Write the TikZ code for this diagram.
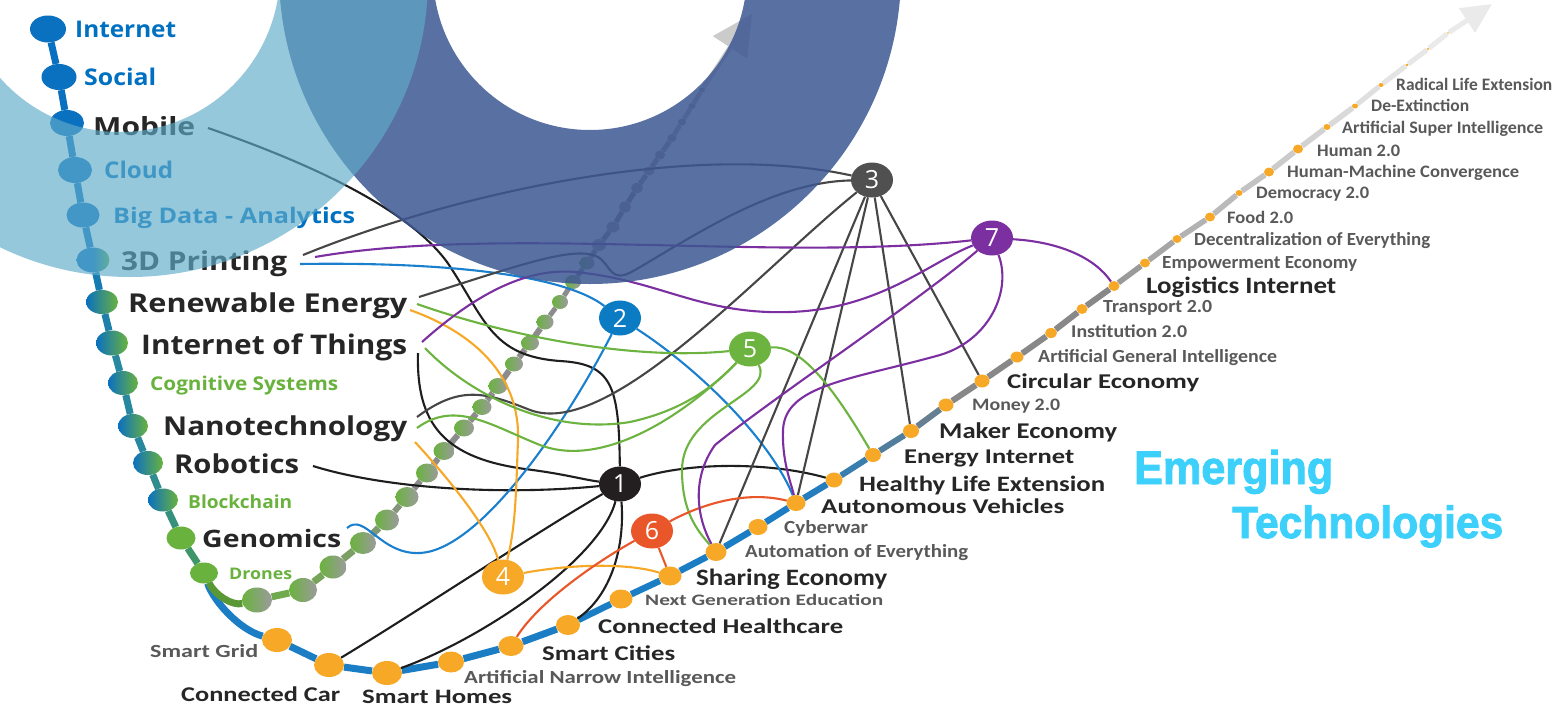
\documentclass[tikz,border=0pt]{standalone}
\usepackage{fontspec}
\usepackage{graphicx}
\usetikzlibrary{shapes.geometric,arrows.meta}
\setmainfont{Open Sans}
\newfontfamily\osf{Open Sans}
\newfontfamily\carl{Carlito}
\newfontfamily\emf{Liberation Sans}[FakeBold=2]
\newcommand{\fitlbl}[3]{\resizebox{#1pt}{\height}{\fontsize{#2}{#2}\selectfont #3}}
\definecolor{cChain}{RGB}{10,112,192}
\definecolor{cTeal}{RGB}{40,136,160}
\definecolor{cTealG}{RGB}{62,150,104}
\definecolor{cLeaf}{RGB}{106,178,62}
\definecolor{cDiag}{RGB}{27,125,196}
\definecolor{cOrange}{RGB}{246,168,38}
\definecolor{cInnerG}{RGB}{155,155,155}
\definecolor{cInL}{RGB}{140,140,140}
\definecolor{cG1}{RGB}{136,136,136}
\definecolor{cDark}{RGB}{38,38,38}
\definecolor{cGrayT}{RGB}{89,89,89}
\definecolor{cBlueT}{RGB}{0,112,192}
\definecolor{cGreenT}{RGB}{106,178,62}
\definecolor{hBlack}{RGB}{35,31,32}
\definecolor{hBlue}{RGB}{11,123,196}
\definecolor{hGray}{RGB}{80,80,80}
\definecolor{hOrange}{RGB}{246,168,38}
\definecolor{hGreen}{RGB}{108,179,63}
\definecolor{hRed}{RGB}{233,86,42}
\definecolor{hPurple}{RGB}{123,47,160}
\definecolor{lBlack}{RGB}{30,30,30}
\definecolor{lGray}{RGB}{70,70,70}
\definecolor{lBlue}{RGB}{26,128,205}
\definecolor{ringNavy}{RGB}{61,87,146}
\definecolor{ringLight}{RGB}{96,172,202}
\definecolor{emCyan}{RGB}{61,208,251}
\pgfdeclarelayer{chain}
\pgfdeclarelayer{conn}
\pgfdeclarelayer{hubs}
\pgfdeclarelayer{rings}
\pgfsetlayers{chain,main,conn,hubs,rings}
\begin{document}
\begin{tikzpicture}[x=1pt,y=-1pt,
  bd/.style n args={2}{ellipse,inner sep=0pt,minimum width=#1pt,minimum height=#2pt},
  blueBead/.style={fill=cChain},
  mixBead/.style={left color=cChain,right color=cLeaf},
  greenBead/.style={fill=cLeaf},
  orBead/.style={fill=cOrange},
  inBead/.style={left color=cLeaf,right color=cInnerG},
  grBead/.style={fill=cInnerG},
  lblL/.style={anchor=base west,inner sep=0pt,font=\osf\bfseries},
  lblR/.style={anchor=base west,inner sep=0pt,font=\carl\bfseries},
  emtext/.style={anchor=base west,inner sep=0pt,font=\emf\bfseries,text=emCyan},
  hub/.style={ellipse,inner sep=0pt,minimum width=42pt,minimum height=35pt,text=white,font={\osf\fontsize{25}{25}\selectfont}},
  cn/.style={line width=2.1pt},
  chainline/.style={line width=7pt}]
\begin{pgfonlayer}{chain}
\fill[white] (0,0) rectangle (1557,707);
\end{pgfonlayer}
\useasboundingbox (0,0) rectangle (1557,707);

% ---------- left chain beads
\node[bd={36}{27},blueBead] (bInt) at (48,29) {};
\node[bd={35}{26},blueBead] (bSoc) at (59,77) {};
\node[bd={34}{26},blueBead] (bMob) at (67,123) {};
\node[bd={34}{26},blueBead] (bClo) at (75,170) {};
\node[bd={33}{25},blueBead] (bBig) at (83,215) {};
\node[bd={33}{25},left color=cChain,right color=cLeaf,middle color=cChain] (b3D) at (93,260) {};
\node[bd={32}{24},mixBead] (bRen) at (102,302) {};
\node[bd={32}{25},mixBead] (bIoT) at (112,343) {};
\node[bd={30}{24},mixBead] (bCog) at (123,383) {};
\node[bd={30}{24},mixBead] (bNan) at (133,426) {};
\node[bd={30}{24},mixBead] (bRob) at (148,463) {};
\node[bd={30}{23},mixBead] (bBlo) at (163,500) {};
\node[bd={29}{23},greenBead] (bGen) at (181,538) {};
\node[bd={28}{21},greenBead] (bDro) at (204,573) {};

% ---------- diagonal beads
\node[bd={30}{24},orBead] (dSG) at (277,640) {};
\node[bd={30}{24},orBead] (dCC) at (329,665) {};
\node[bd={30}{24},orBead] (dSH) at (387,673) {};
\node[bd={26}{21},orBead] (dANI) at (451,662) {};
\node[bd={25}{20},orBead] (dSC) at (511,646) {};
\node[bd={24}{20},orBead] (dCH) at (568,625) {};
\node[bd={23}{19},orBead] (dNG) at (621,599) {};
\node[bd={23}{19},orBead] (dSE) at (670,576) {};
\node[bd={21}{18},orBead] (dAE) at (716,552) {};
\node[bd={19}{16},orBead] (dCW) at (758,527) {};
\node[bd={19}{16},orBead] (dAV) at (796,503) {};
\node[bd={17}{15},orBead] (dHL) at (834,480) {};
\node[bd={16}{14},orBead] (dEI) at (873,455) {};
\node[bd={16}{14},orBead] (dME) at (911,431) {};
\node[bd={15}{13},orBead] (dM2) at (946,405) {};
\node[bd={15}{13},orBead] (dCE) at (982,381) {};
\node[bd={13}{11},orBead] (dAG) at (1017,357) {};
\node[bd={12}{10},orBead] (dI2) at (1051,333) {};
\node[bd={11}{10},orBead] (dT2) at (1082,309) {};
\node[bd={11}{10},orBead] (dLI) at (1114,286) {};
\node[bd={10}{9},orBead] (dEE) at (1145,263) {};
\node[bd={9}{8},orBead] (dDE) at (1177,239) {};
\node[bd={10}{9},orBead] (dF2) at (1210,217) {};
\node[bd={7}{6},orBead] (dD2) at (1239,193) {};
\node[bd={10}{9},orBead] (dHM) at (1269,172) {};
\node[bd={10}{9},orBead] (dH2) at (1298,149) {};
\node[bd={7}{6},orBead] (dAS) at (1327,127) {};
\node[bd={6}{5},orBead] (dDX) at (1355,106) {};
\node[bd={5}{4},orBead] (dRL) at (1381,85) {};
\node[bd={3.2}{2.8},orBead] (dX1) at (1407,65) {};
\node[bd={2.6}{2.2},orBead] (dX2) at (1428,49) {};
\node[bd={2}{1.8},orBead] (dX3) at (1448,33) {};
\coordinate (tipOut) at (1492,4);

% ---------- inner chain beads
\node[bd={30}{25},inBead] (i1) at (257,600) {};
\node[bd={28}{24},inBead] (i2) at (303,590) {};
\node[bd={27}{23},inBead] (i3) at (333,567) {};
\node[bd={26}{22},inBead] (i4) at (363,543) {};
\node[bd={24}{21},inBead] (i5) at (387,520) {};
\node[bd={23}{20},inBead] (i6) at (407,497) {};
\node[bd={22}{19},inBead] (i7) at (427,473) {};
\node[bd={21}{18},inBead] (i8) at (444,451) {};
\node[bd={20}{17},inBead] (i9) at (464,428) {};
\node[bd={19}{16},inBead] (i10) at (482,407) {};
\node[bd={19}{16},inBead] (i11) at (498,386) {};
\node[bd={18}{15},inBead] (i12) at (514,364) {};
\node[bd={18}{15},inBead] (i13) at (530,343) {};
\node[bd={17}{15},inBead] (i14) at (545,322) {};
\node[bd={16}{14},inBead] (i15) at (560,302) {};
\node[bd={16}{14},inBead] (i16) at (573,282) {};
\node[bd={15}{13},inBead] (i17) at (587,263) {};
\node[bd={14}{12},grBead] (i18) at (599,245) {};
\node[bd={13}{11},grBead] (i19) at (613,227) {};
\node[bd={12}{11},grBead] (i20) at (625,207) {};
\node[bd={12}{10},grBead] (i21) at (637,188) {};
\node[bd={11}{9},grBead] (i22) at (649,171) {};
\node[bd={10}{9},grBead] (i23) at (660,155) {};
\node[bd={9}{8},grBead] (i24) at (672,138) {};
\node[bd={8}{7},grBead] (i25) at (682,122) {};
\node[bd={7}{6},grBead] (i26) at (692,106) {};
\node[bd={6}{5},grBead] (i27) at (702,90) {};
\coordinate (tipIn) at (752,14);

% ---------- left labels
\node[lblL,text=cBlueT] (tInt) at (75,37) {\fitlbl{101}{23}{Internet}};
\node[lblL,text=cBlueT] (tSoc) at (84,85) {\fitlbl{72}{23}{Social}};
\node[lblL,text=cDark] (tMob) at (93,135) {\fitlbl{102}{25}{Mobile}};
\node[lblL,text=cBlueT] (tClo) at (104,178) {\fitlbl{69}{23}{Cloud}};
\node[lblL,text=cBlueT] (tBig) at (113,223) {\fitlbl{242}{21.5}{Big Data - Analytics}};
\node[lblL,text=cDark] (t3D) at (121,270) {\fitlbl{166}{26}{3D Printing}};
\node[lblL,text=cDark] (tRen) at (128,312) {\fitlbl{279}{26}{Renewable Energy}};
\node[lblL,text=cDark] (tIoT) at (141,354) {\fitlbl{266}{27}{Internet of Things}};
\node[lblL,text=cGreenT] (tCog) at (150,390) {\fitlbl{188}{19}{Cognitive Systems}};
\node[lblL,text=cDark] (tNan) at (163,435) {\fitlbl{244}{26}{Nanotechnology}};
\node[lblL,text=cDark] (tRob) at (174,473) {\fitlbl{125}{26}{Robotics}};
\node[lblL,text=cGreenT] (tBlo) at (188,508) {\fitlbl{104}{18}{Blockchain}};
\node[lblL,text=cDark] (tGen) at (202,547) {\fitlbl{139}{24}{Genomics}};
\node[lblL,text=cGreenT] (tDro) at (229,579) {\fitlbl{63}{16}{Drones}};

% ---------- right labels
\node[lblR,text=cGrayT] (tSG) at (150,657) {\fitlbl{108}{18.5}{Smart Grid}};
\node[lblR,text=cDark] (tCC) at (181,701) {\fitlbl{159}{21}{Connected Car}};
\node[lblR,text=cDark] (tSH) at (362,703) {\fitlbl{150}{20.5}{Smart Homes}};
\node[lblR,text=cGrayT] (tANI) at (464,683) {\fitlbl{272}{18.5}{Artificial Narrow Intelligence}};
\node[lblR,text=cDark] (tSC) at (542,660) {\fitlbl{133}{21}{Smart Cities}};
\node[lblR,text=cDark] (tCH) at (598,633) {\fitlbl{245}{21}{Connected Healthcare}};
\node[lblR,text=cGrayT] (tNG) at (645,605) {\fitlbl{238}{16}{Next Generation Education}};
\node[lblR,text=cDark] (tSE) at (696,585) {\fitlbl{191}{23.5}{Sharing Economy}};
\node[lblR,text=cGrayT] (tAE) at (745,557) {\fitlbl{223}{18.5}{Automation of Everything}};
\node[lblR,text=cGrayT] (tCW) at (784,533) {\fitlbl{84}{18.5}{Cyberwar}};
\node[lblR,text=cDark] (tAV) at (821,513) {\fitlbl{243}{21}{Autonomous Vehicles}};
\node[lblR,text=cDark] (tHL) at (859,491) {\fitlbl{246}{22}{Healthy Life Extension}};
\node[lblR,text=cDark] (tEI) at (904,463) {\fitlbl{170}{21}{Energy Internet}};
\node[lblR,text=cDark] (tME) at (939,438) {\fitlbl{178}{22.5}{Maker Economy}};
\node[lblR,text=cGrayT] (tM2) at (972,410) {\fitlbl{88}{17.5}{Money 2.0}};
\node[lblR,text=cDark] (tCE) at (1007,388) {\fitlbl{192}{21}{Circular Economy}};
\node[lblR,text=cGrayT] (tAG) at (1038,362) {\fitlbl{239}{18.5}{Artificial General Intelligence}};
\node[lblR,text=cGrayT] (tI2) at (1071,337) {\fitlbl{116}{18}{Institution 2.0}};
\node[lblR,text=cGrayT] (tT2) at (1103,312) {\fitlbl{109}{18.5}{Transport 2.0}};
\node[lblR,text=cDark] (tLI) at (1146,293) {\fitlbl{190}{23.5}{Logistics Internet}};
\node[lblR,text=cGrayT] (tEE) at (1162,268) {\fitlbl{195}{18.5}{Empowerment Economy}};
\node[lblR,text=cGrayT] (tDE) at (1194,245) {\fitlbl{236}{18.5}{Decentralization of Everything}};
\node[lblR,text=cGrayT] (tF2) at (1227,223) {\fitlbl{66}{17.5}{Food 2.0}};
\node[lblR,text=cGrayT] (tD2) at (1256,198) {\fitlbl{113}{17.5}{Democracy 2.0}};
\node[lblR,text=cGrayT] (tHM) at (1287,177) {\fitlbl{232}{17.5}{Human-Machine Convergence}};
\node[lblR,text=cGrayT] (tH2) at (1317,156) {\fitlbl{83}{17.5}{Human 2.0}};
\node[lblR,text=cGrayT] (tAS) at (1342,133) {\fitlbl{201}{17.5}{Artificial Super Intelligence}};
\node[lblR,text=cGrayT] (tDX) at (1371,111) {\fitlbl{98}{17.5}{De-Extinction}};
\node[lblR,text=cGrayT] (tRL) at (1396,90) {\fitlbl{156}{17.5}{Radical Life Extension}};

\node[emtext] (tEm1) at (1134,484) {\fitlbl{199}{47}{Emerging}};
\node[emtext] (tEm2) at (1232,538) {\fitlbl{271}{45}{Technologies}};

% ---------- hubs
\begin{pgfonlayer}{hubs}
\node[hub,fill=hBlack] (n1) at (620,484) {1};
\node[hub,fill=hBlue] (n2) at (620,318) {2};
\node[hub,fill=hGray] (n3) at (872,180) {3};
\node[hub,fill=hOrange] (n4) at (503,577) {4};
\node[hub,fill=hGreen] (n5) at (750,349) {5};
\node[hub,fill=hRed] (n6) at (652,531) {6};
\node[hub,fill=hPurple] (n7) at (992,238) {7};
\end{pgfonlayer}

% ---------- connector end points at labels
\coordinate (eMob) at (208,128);
\coordinate (e3Dg) at (303,255);
\coordinate (e3Dp) at (315,257);
\coordinate (e3Db) at (300,264);
\coordinate (eReg) at (419,297);
\coordinate (eReG) at (417,304);
\coordinate (eReo) at (410,310);
\coordinate (eIoTp) at (422,342);
\coordinate (eIoTg) at (425,348);
\coordinate (eIoTk) at (418,353);
\coordinate (eNag) at (417,417);
\coordinate (eNaG) at (417,428);
\coordinate (eNao) at (415,442);
\coordinate (eRob) at (313,466);
\coordinate (eGen) at (347,528);

% ---------- chain lines
\begin{pgfonlayer}{chain}
\foreach \a/\b/\c in {bInt/bSoc/cChain,bSoc/bMob/cChain,bMob/bClo/cChain,bClo/bBig/cChain,
  bBig/b3D/cChain,b3D/bRen/cChain!60!cTeal,bRen/bIoT/cChain!30!cTeal,bIoT/bCog/cTeal,
  bCog/bNan/cTeal,bNan/bRob/cTeal,bRob/bBlo/cTeal!70!cTealG,bBlo/bGen/cTeal!40!cTealG,bGen/bDro/cTealG}
  {\draw[chainline,draw=\c] (\a) -- (\b);}
\draw[chainline,draw=cDiag] (bDro) .. controls (214,602) and (240,630) .. (dSG);
\draw[chainline,draw=cLeaf!85!black] (bDro) .. controls (215,595) and (232,606) .. (i1);
\foreach \a/\b/\w/\c in {dSG/dCC/7/cDiag,dCC/dSH/7/cDiag,dSH/dANI/7/cDiag,dANI/dSC/7/cDiag,
  dSC/dCH/7/cDiag,dCH/dNG/6.5/cDiag,dNG/dSE/6.5/cDiag,dSE/dAE/6.5/cDiag,dAE/dCW/6.5/cDiag,
  dCW/dAV/6.5/cDiag,dAV/dHL/6.5/cDiag!90!gray,dHL/dEI/6/cDiag!70!gray,dEI/dME/6/cDiag!45!gray,
  dME/dM2/6/cDiag!25!gray,dM2/dCE/6/cG1,dCE/dAG/6/cG1,dAG/dI2/6/cG1,dI2/dT2/6/cG1,dT2/dLI/6/cG1,
  dLI/dEE/5.5/cG1!85!white,dEE/dDE/5.5/cG1!75!white,dDE/dF2/5.5/cG1!65!white,
  dF2/dD2/5.5/cG1!58!white,dD2/dHM/5.5/cG1!50!white,dHM/dH2/5.5/cG1!44!white,
  dH2/dAS/5.5/cG1!38!white,dAS/dDX/5.5/cG1!32!white,dDX/dRL/5/cG1!27!white,
  dRL/dX1/5/cG1!23!white,dX1/dX2/5/cG1!20!white,dX2/dX3/5/cG1!18!white}
  {\draw[line width=\w pt,draw=\c] (\a) -- (\b);}
\draw[line width=5pt,draw=cG1!18!white,-{Triangle[length=30pt,width=28pt]}] (dX3) -- (tipOut);
\foreach \a/\b/\w/\c in {i1/i2/7/cLeaf!80!cInL,i2/i3/7/cLeaf!65!cInL,i3/i4/7/cLeaf!50!cInL,
  i4/i5/7/cLeaf!35!cInL,i5/i6/6/cLeaf!20!cInL,i6/i7/6/cInL,i7/i8/6/cInL,i8/i9/6/cInL,
  i9/i10/6/cInL,i10/i11/6/cInL,i11/i12/6/cInL,i12/i13/6/cInL,i13/i14/6/cInL,i14/i15/5/cInL,
  i15/i16/5/cInL,i16/i17/5/cInL,i17/i18/5/cInL,i18/i19/5/cInL,i19/i20/5/cInL,i20/i21/5/cInL,
  i21/i22/5/cInL!90!white,i22/i23/5/cInL!85!white,i23/i24/5/cInL!80!white,
  i24/i25/4.5/cInL!75!white,i25/i26/4.5/cInL!70!white,i26/i27/4.5/cInL!65!white}
  {\draw[line width=\w pt,draw=\c] (\a) -- (\b);}
\draw[line width=4.5pt,draw=cInL!45!white,-{Triangle[length=40pt,width=40pt]}] (i27) -- (tipIn);
\end{pgfonlayer}

% ---------- connectors
\begin{pgfonlayer}{conn}
% hub 1
\draw[cn,lBlack] (eMob) .. controls (300,160) and (405,205) .. (447,262)
   .. controls (485,318) and (490,356) .. (560,361) .. controls (612,364) and (619,385) .. (n1);
\draw[cn,lBlack] (eIoTk) .. controls (416,425) and (445,458) .. (525,469) .. controls (565,474) and (585,480) .. (n1);
\draw[cn,lBlack] (eRob) .. controls (390,490) and (510,495) .. (n1);
\draw[cn,lBlack] (n1) .. controls (540,530) and (420,610) .. (dCC);
\draw[cn,lBlack] (n1) .. controls (600,560) and (480,640) .. (dSH);
\draw[cn,lBlack] (n1) .. controls (625,545) and (612,595) .. (dCH);
\draw[cn,lBlack] (n1) .. controls (690,462) and (770,462) .. (dHL);
% hub 2
\draw[cn,lBlue] (e3Db) .. controls (430,262) and (560,272) .. (n2);
\draw[cn,lBlue] (eGen) .. controls (365,512) and (380,555) .. (420,553) .. controls (480,550) and (565,425) .. (n2);
\draw[cn,lBlue] (n2) .. controls (700,370) and (770,440) .. (dAV);
% hub 3
\draw[cn,lGray] (e3Dg) .. controls (450,195) and (690,140) .. (n3);
\draw[cn,lGray] (eReg) .. controls (520,265) and (575,245) .. (598,257)
   .. controls (612,266) and (610,285) .. (635,270) .. controls (700,232) and (775,182) .. (n3);
\draw[cn,lGray] (eNag) .. controls (460,385) and (485,392) .. (530,410) .. controls (610,440) and (760,270) .. (n3);
\draw[cn,lGray] (n3) -- (dAE);
\draw[cn,lGray] (n3) -- (dAV);
\draw[cn,lGray] (n3) -- (dME);
\draw[cn,lGray] (n3) -- (dCE);
% hub 4
\draw[cn,hOrange] (eReo) .. controls (480,335) and (520,380) .. (518,440) .. controls (516,490) and (516,525) .. (n4);
\draw[cn,hOrange] (eNao) .. controls (450,480) and (490,530) .. (n4);
\draw[cn,hOrange] (n4) .. controls (565,565) and (625,562) .. (dSE);
% hub 5
\draw[cn,hGreen] (eReG) .. controls (520,340) and (640,360) .. (n5);
\draw[cn,hGreen] (eIoTg) .. controls (470,395) and (550,435) .. (630,422) .. controls (685,410) and (715,385) .. (n5);
\draw[cn,hGreen] (eNaG) .. controls (455,400) and (490,425) .. (540,445) .. controls (600,468) and (680,420) .. (n5);
\draw[cn,hGreen] (n5) .. controls (775,395) and (682,410) .. (682,470) .. controls (682,512) and (697,530) .. (dAE);
\draw[cn,hGreen] (n5) .. controls (800,345) and (832,385) .. (dEI);
% hub 6
\draw[cn,hRed] (n6) .. controls (600,560) and (540,600) .. (dSC);
\draw[cn,hRed] (n6) .. controls (700,505) and (745,490) .. (dAV);
\draw[cn,hRed] (n6) -- (dSE);
% hub 7
\draw[cn,hPurple] (e3Dp) .. controls (500,225) and (780,262) .. (n7);
\draw[cn,hPurple] (eIoTp) .. controls (480,290) and (530,268) .. (575,272)
   .. controls (660,280) and (700,315) .. (790,312) .. controls (880,309) and (930,262) .. (n7);
\draw[cn,hPurple] (n7) .. controls (920,300) and (770,400) .. (715,445) .. controls (690,480) and (698,520) .. (dAE);
\draw[cn,hPurple] (n7) .. controls (1012,290) and (990,340) .. (940,355)
   .. controls (850,380) and (785,385) .. (783,430) .. controls (782,460) and (790,480) .. (dAV);
\draw[cn,hPurple] (n7) .. controls (1060,242) and (1095,258) .. (dLI);
\end{pgfonlayer}

% ---------- overlapping rings
\begin{pgfonlayer}{rings}
\fill[ringNavy,fill opacity=0.85,even odd rule] (590,-27) circle[radius=311] (590,-27) circle[radius=157];
\fill[ringLight,fill opacity=0.66,even odd rule] (130,-21) circle[radius=298] (120,-28) circle[radius=160];
\end{pgfonlayer}
\end{tikzpicture}
\end{document}
